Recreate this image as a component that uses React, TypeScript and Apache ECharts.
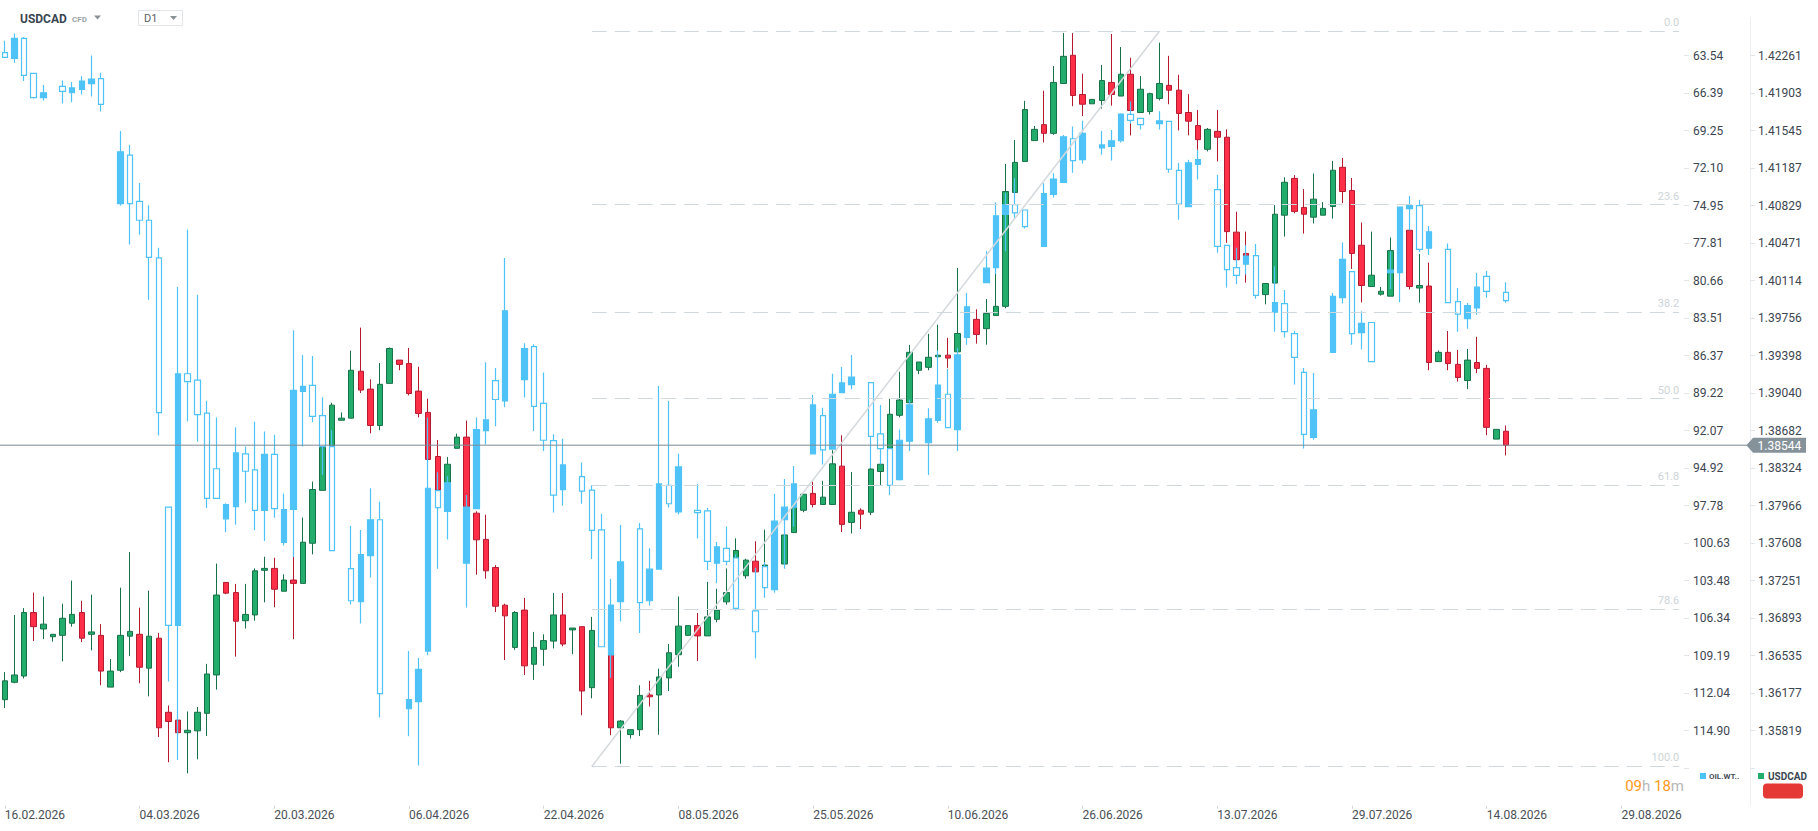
import React, { useEffect, useRef } from "react";
import * as echarts from "echarts";

// ---------- categories ----------
const START_DATE = "2026-02-16"; // first candle
const CANDLE_COUNT = 157; // trading sessions (Sun-Fri)
const FUTURE_COUNT = 18; // empty future days on the right
const TICK_LABELS = [
  "16.02.2026", "04.03.2026", "20.03.2026", "06.04.2026", "22.04.2026", "08.05.2026",
  "25.05.2026", "10.06.2026", "26.06.2026", "13.07.2026", "29.07.2026", "14.08.2026", "29.08.2026",
];

// ---------- axis tick labels ----------
const OIL_TICKS = ["63.54", "66.39", "69.25", "72.10", "74.95", "77.81", "80.66", "83.51", "86.37", "89.22",
  "92.07", "94.92", "97.78", "100.63", "103.48", "106.34", "109.19", "112.04", "114.90"];
const USDCAD_TICKS = ["1.42261", "1.41903", "1.41545", "1.41187", "1.40829", "1.40471", "1.40114", "1.39756",
  "1.39398", "1.39040", "1.38682", "1.38324", "1.37966", "1.37608", "1.37251", "1.36893", "1.36535", "1.36177", "1.35819"];
const OIL_MIN = 60.6867;
const OIL_STEP = 2.8533;
const USD_MAX = 1.42619;
const USD_STEP = 0.0035789;
const STEPS = 21;

// ---------- USDCAD [open, close, low, high] ----------
const USDCAD_OCLH: (number[] | null)[] = [
  [1.36115, 1.36295, 1.36036, 1.36378], [1.36281, 1.36351, 1.36272, 1.36924], [1.36341, 1.36947, 1.36318, 1.36989],
  [1.36947, 1.36812, 1.36674, 1.37137], [1.3679, 1.36836, 1.36693, 1.371], [1.36716, 1.36739, 1.36669, 1.36739],
  [1.36729, 1.36892, 1.3648, 1.37031], [1.36845, 1.36929, 1.36812, 1.37252], [1.36947, 1.36702, 1.36665, 1.37059],
  [1.36739, 1.36762, 1.36586, 1.37118], [1.36729, 1.36388, 1.36253, 1.36836], [1.36235, 1.36388, 1.36235, 1.36503],
  [1.36396, 1.36729, 1.36378, 1.37184], [1.36721, 1.36767, 1.36531, 1.37525], [1.36739, 1.36425, 1.36272, 1.36993],
  [1.36416, 1.36721, 1.36147, 1.37155], [1.36702, 1.35847, 1.35758, 1.36753], [1.35995, 1.35907, 1.35518, 1.3606],
  [1.3592, 1.358, 1.358, 1.3592], [1.358, 1.35823, 1.35412, 1.36003], [1.35818, 1.35995, 1.35546, 1.36045],
  [1.35985, 1.3636, 1.35768, 1.36457], [1.36351, 1.37114, 1.36211, 1.37414], [1.37234, 1.37132, 1.37122, 1.37234],
  [1.37137, 1.36864, 1.36526, 1.3722], [1.36869, 1.36929, 1.36794, 1.3722], [1.36924, 1.37345, 1.36869, 1.37368],
  [1.3735, 1.37368, 1.37044, 1.37479], [1.37368, 1.37169, 1.36998, 1.3747], [1.3715, 1.37257, 1.3715, 1.37312],
  [1.37257, 1.37225, 1.36693, 1.37479], [1.37225, 1.37618, 1.37225, 1.37853], [1.37608, 1.38121, 1.37502, 1.38196],
  [1.38113, 1.38524, 1.38113, 1.38524], [1.38533, 1.38926, 1.38533, 1.38949], [1.38782, 1.38802, 1.38782, 1.38857],
  [1.38802, 1.39259, 1.38802, 1.39445], [1.3925, 1.3907, 1.39042, 1.39666], [1.39079, 1.38732, 1.38657, 1.39172],
  [1.38732, 1.39125, 1.38686, 1.39328], [1.39134, 1.39467, 1.39134, 1.39476], [1.39356, 1.39315, 1.39259, 1.39356],
  [1.39323, 1.39037, 1.39019, 1.39472], [1.3906, 1.38847, 1.3881, 1.39292], [1.38857, 1.38408, 1.38408, 1.38987],
  [1.38436, 1.38117, 1.38117, 1.38594], [1.38117, 1.38362, 1.38117, 1.38431], [1.38514, 1.38621, 1.38514, 1.38654],
  [1.38621, 1.37955, 1.37955, 1.38779], [1.37895, 1.37641, 1.37308, 1.37913], [1.37645, 1.37345, 1.3727, 1.37881],
  [1.37377, 1.37007, 1.36952, 1.374], [1.37017, 1.36915, 1.36494, 1.37031], [1.36614, 1.36947, 1.36591, 1.36961],
  [1.3697, 1.36438, 1.36351, 1.37086], [1.36453, 1.36614, 1.36304, 1.36762], [1.36596, 1.36679, 1.36438, 1.36739],
  [1.36674, 1.36924, 1.36604, 1.37132], [1.36924, 1.36646, 1.36624, 1.37132], [1.36781, 1.36799, 1.36549, 1.36799],
  [1.36812, 1.36198, 1.35967, 1.36812], [1.3623, 1.36776, 1.36128, 1.36905], null,
  [1.36544, 1.35847, 1.35777, 1.36544], [1.35847, 1.35911, 1.35504, 1.3592], [1.35782, 1.35829, 1.35745, 1.35829],
  [1.35829, 1.36156, 1.35768, 1.36253], [1.3616, 1.36143, 1.3605, 1.36295], [1.3616, 1.36332, 1.35781, 1.36411],
  [1.36323, 1.36563, 1.36198, 1.36646], [1.36544, 1.36817, 1.36429, 1.371], [1.36729, 1.36822, 1.36729, 1.36822],
  [1.36822, 1.36724, 1.36484, 1.36942], [1.36724, 1.36905, 1.36724, 1.37239], [1.36882, 1.3697, 1.36854, 1.37174],
  [1.37049, 1.37137, 1.37022, 1.37368], [1.3746, 1.37539, 1.3746, 1.37655], [1.37298, 1.37447, 1.3727, 1.3746],
  [1.37437, 1.37335, 1.37335, 1.37627], [1.37377, 1.374, 1.37377, 1.37738], null,
  [1.3741, 1.37687, 1.3741, 1.3787], [1.3771, 1.37955, 1.3771, 1.3803], [1.37923, 1.38076, 1.37904, 1.38076],
  [1.38084, 1.37978, 1.3795, 1.38196], [1.37978, 1.38048, 1.37978, 1.38204], [1.37978, 1.38366, 1.37978, 1.38496],
  [1.38344, 1.37788, 1.37715, 1.38639], [1.37807, 1.37904, 1.37701, 1.38288], [1.37923, 1.37886, 1.37743, 1.37941],
  [1.37904, 1.38316, 1.37876, 1.38357], [1.38293, 1.38362, 1.38154, 1.38441], [1.38514, 1.38839, 1.38514, 1.38987],
  [1.38829, 1.38975, 1.3881, 1.39245], [1.38949, 1.3943, 1.38949, 1.395], [1.39259, 1.39338, 1.39222, 1.39338],
  [1.39287, 1.39383, 1.39259, 1.39606], [1.39388, 1.39403, 1.39388, 1.39694], [1.39403, 1.39375, 1.39282, 1.39569],
  [1.39435, 1.3961, 1.39435, 1.40234], null, [1.39745, 1.39601, 1.39513, 1.39841],
  [1.39656, 1.398, 1.39503, 1.39939], [1.39781, 1.39869, 1.39781, 1.40179], [1.39869, 1.40965, 1.39851, 1.41228],
  [1.40956, 1.41243, 1.40956, 1.41456], [1.41252, 1.41747, 1.41252, 1.4183], [1.41451, 1.41558, 1.41451, 1.4159],
  [1.41603, 1.4152, 1.41433, 1.41927], [1.4152, 1.42006, 1.41506, 1.42163], [1.41996, 1.42255, 1.41996, 1.42477],
  [1.42265, 1.41881, 1.41779, 1.42477], [1.41891, 1.41798, 1.41686, 1.42089], [1.41802, 1.41844, 1.41802, 1.41844],
  [1.41834, 1.42024, 1.41756, 1.42172], [1.42006, 1.41891, 1.41784, 1.42468], [1.41876, 1.42084, 1.41876, 1.42344],
  [1.42084, 1.41738, 1.41501, 1.42242], [1.41719, 1.41941, 1.41719, 1.42066], [1.41728, 1.41899, 1.41701, 1.41908],
  [1.41853, 1.41996, 1.41834, 1.42385], [1.41978, 1.41932, 1.41798, 1.4226], [1.41932, 1.4171, 1.41548, 1.42079],
  [1.41719, 1.41636, 1.41501, 1.41894], [1.41594, 1.4146, 1.41363, 1.41742], [1.41368, 1.41558, 1.41348, 1.41571],
  [1.41539, 1.41483, 1.41252, 1.41742], [1.41483, 1.40582, 1.40475, 1.41558], [1.40577, 1.40314, 1.40314, 1.40772],
  [1.40374, 1.40346, 1.40096, 1.40582], null, [1.39981, 1.40087, 1.39888, 1.40087],
  [1.40091, 1.40748, 1.40091, 1.40835], [1.40739, 1.41053, 1.40535, 1.411], [1.4109, 1.40775, 1.40757, 1.41122],
  [1.40813, 1.40748, 1.40563, 1.40988], [1.4072, 1.40892, 1.4066, 1.41137], [1.40739, 1.40804, 1.40739, 1.40864],
  [1.40822, 1.41168, 1.40707, 1.41257], [1.41196, 1.40965, 1.40854, 1.41285], [1.40974, 1.40374, 1.40226, 1.41094],
  [1.40452, 1.40068, 1.39906, 1.40669], [1.40058, 1.40166, 1.40058, 1.40582], [1.39985, 1.40013, 1.39971, 1.40054],
  [1.39966, 1.40401, 1.39966, 1.40526], null, [1.40595, 1.40058, 1.4003, 1.40595],
  [1.40044, 1.40068, 1.39906, 1.40369], [1.40063, 1.39333, 1.39259, 1.40286], [1.39342, 1.3943, 1.39342, 1.39448],
  [1.3943, 1.39323, 1.39259, 1.39633], [1.39315, 1.3919, 1.39152, 1.39453], [1.39161, 1.39356, 1.39079, 1.39462],
  [1.39333, 1.39277, 1.39231, 1.39578], [1.39277, 1.38714, 1.38639, 1.3931], [1.38602, 1.38695, 1.38602, 1.38695],
  [1.38677, 1.38544, 1.38446, 1.38732],
];

// ---------- OIL.WTI [open, close, low, high] ----------
const OIL_OCLH: (number[] | null)[] = [
  [63.30, 63.66, 62.41, 63.70], [63.74, 62.22, 61.86, 64.07], [62.22, 65.03, 62.12, 65.47], [64.88, 66.73, 64.86, 66.80],
  [66.73, 66.36, 65.77, 66.95], null, [65.88, 66.25, 65.43, 67.17], [66.36, 65.99, 65.54, 67.09],
  [66.10, 65.47, 65.10, 66.50], [65.66, 65.32, 63.52, 66.65], [65.28, 67.24, 64.84, 67.79], null,
  [74.80, 70.85, 69.27, 74.95], [71.11, 74.80, 70.33, 77.90], [74.62, 76.06, 73.22, 77.16], [76.06, 78.89, 74.92, 82.11],
  [78.93, 90.70, 78.16, 92.43], [97.89, 106.89, 97.89, 111.16], [106.89, 87.74, 81.14, 117.13], [87.74, 88.34, 76.76, 91.36],
  [88.22, 90.85, 81.73, 92.91], [90.73, 97.22, 89.81, 97.96], [94.97, 97.22, 91.07, 97.22], [98.78, 97.70, 97.59, 99.80],
  [97.85, 93.75, 91.81, 99.22], [93.83, 95.16, 93.28, 97.56], [95.05, 98.14, 91.40, 99.63], [98.14, 93.87, 92.13, 100.47],
  [93.87, 98.00, 92.39, 98.70], [100.58, 98.07, 96.86, 100.80], [98.07, 89.00, 84.43, 101.68], [89.08, 88.70, 86.31, 93.28],
  [88.63, 90.99, 86.38, 91.43], [90.92, 93.28, 89.52, 95.42], [93.28, 101.20, 92.03, 101.20], null,
  [102.57, 105.01, 99.32, 105.30], [105.08, 101.50, 99.62, 106.74], [101.58, 98.85, 96.45, 103.24], [98.85, 112.08, 97.48, 113.90],
  null, null, [113.23, 112.53, 108.84, 115.33], [112.68, 110.24, 109.36, 117.55],
  [108.84, 96.45, 91.07, 109.14], [96.63, 97.92, 95.23, 102.57], [98.22, 96.04, 95.53, 100.36], null,
  [102.16, 97.89, 96.97, 105.53], [98.00, 91.99, 91.07, 98.00], [92.06, 91.25, 86.86, 93.13], [88.26, 89.70, 87.30, 91.73],
  [89.81, 82.95, 78.93, 90.29], null, [88.19, 85.83, 85.42, 89.55], [85.68, 90.22, 85.50, 92.10],
  [90.00, 92.80, 87.64, 93.61], [92.83, 96.97, 92.35, 98.30], [96.56, 94.68, 92.69, 97.78], null,
  [95.57, 96.67, 94.49, 97.63], [96.60, 99.66, 96.23, 101.84], [99.62, 108.51, 98.40, 108.51], [109.14, 105.34, 103.35, 110.87],
  [105.08, 102.06, 99.25, 106.59], null, [99.55, 105.15, 99.10, 107.47], [105.01, 102.61, 101.02, 105.37],
  [102.61, 96.12, 88.67, 102.61], [96.23, 97.63, 89.81, 97.92], [98.26, 94.83, 93.83, 98.44], null,
  [98.14, 98.30, 96.12, 100.28], [98.18, 102.02, 97.96, 102.68], [102.16, 100.91, 100.54, 103.68], [101.02, 102.02, 99.36, 102.31],
  [101.76, 105.59, 101.50, 105.75], null, [105.78, 107.37, 102.50, 109.40], [102.42, 104.01, 102.06, 104.79],
  [104.16, 98.96, 96.89, 104.41], [98.85, 97.89, 95.75, 102.57], [97.89, 96.12, 94.75, 99.36], null,
  [93.83, 90.11, 89.33, 93.83], [90.92, 93.53, 90.33, 94.64], [93.47, 89.30, 87.74, 93.47], [89.18, 88.44, 87.23, 89.18],
  [88.56, 88.00, 86.31, 88.92], null, [88.41, 92.51, 88.41, 94.93], [92.32, 93.43, 90.11, 94.64],
  [93.43, 96.23, 93.43, 96.97], [95.79, 92.80, 91.99, 95.86], [92.87, 90.11, 89.70, 93.61], null,
  [92.99, 91.18, 90.37, 95.45], [91.29, 88.60, 85.98, 91.47], [89.30, 91.84, 87.38, 91.84], [91.99, 86.31, 85.76, 93.61],
  [84.98, 82.65, 81.59, 85.54], null, [80.81, 79.71, 78.42, 80.81], [79.67, 75.72, 74.69, 80.15],
  [75.62, 74.88, 73.99, 78.42], [74.88, 75.50, 72.85, 75.94], [75.28, 76.54, 75.28, 76.68], null,
  [78.05, 74.03, 73.25, 78.05], [74.10, 72.92, 72.48, 74.32], [73.18, 69.71, 69.57, 73.18], [69.86, 71.52, 68.93, 72.44],
  [71.45, 69.45, 68.49, 71.74], null, [70.56, 70.33, 69.27, 71.07], [70.45, 70.01, 69.19, 71.52],
  [70.01, 67.98, 67.91, 70.15], [68.01, 68.46, 67.02, 68.71], [68.31, 68.79, 68.31, 69.16], null,
  [68.71, 68.49, 67.76, 69.16], [68.53, 72.18, 68.53, 72.44], [72.26, 74.84, 71.70, 76.02], [75.02, 71.70, 71.45, 75.02],
  [71.81, 71.45, 70.71, 72.96], null, [73.73, 78.05, 72.59, 78.53], [77.97, 79.82, 77.97, 81.18],
  [79.67, 80.26, 78.16, 80.93], [79.41, 78.78, 77.97, 80.19], [78.75, 81.77, 77.86, 82.03], null,
  [83.06, 82.33, 79.56, 84.54], [82.40, 84.54, 81.37, 84.98], [84.69, 86.50, 84.46, 88.56], [87.64, 92.35, 87.30, 93.43],
  [92.58, 90.48, 87.68, 92.76], null, [86.12, 81.85, 81.59, 86.12], [81.95, 79.04, 77.75, 82.40],
  [79.97, 84.69, 79.97, 85.54], [84.61, 83.91, 82.99, 85.90], [83.84, 86.82, 83.84, 86.82], null,
  [80.04, 79.85, 78.42, 81.29], [80.04, 75.06, 75.06, 82.29], [75.17, 74.95, 74.22, 76.83], [74.95, 78.27, 74.50, 78.49],
  [78.19, 76.94, 76.50, 78.71], null, [78.27, 82.33, 77.83, 82.33], [82.25, 83.21, 81.22, 84.54],
  [83.54, 82.55, 82.36, 84.32], [82.73, 81.15, 80.07, 83.25], [80.33, 81.47, 79.93, 81.95], null,
  [81.55, 82.17, 80.77, 82.33],
];

// ---------- Fibonacci retracement & trend line (USDCAD) ----------
const FIB_LEVELS = [0, 23.6, 38.2, 50, 61.8, 78.6, 100];
const FIB_HIGH = 1.42497;
const FIB_LOW = 1.35478;
const FIB_START_INDEX = 61;
const TREND_END_INDEX = 120;
const LAST_PRICE = 1.38544;

const COLORS = {
  up: "#22ad6d",
  upBorder: "#177148",
  down: "#ff2f48",
  downBorder: "#b51a30",
  oil: "#4fc3f7",
  fib: "#cfd8dd",
  fibText: "#cdd4d9",
  price: "#7e8b94",
  axisText: "#3c4650",
};

function pad(n: number) {
  return n < 10 ? "0" + n : "" + n;
}
function fmt(d: Date) {
  return pad(d.getUTCDate()) + "." + pad(d.getUTCMonth() + 1) + "." + d.getUTCFullYear();
}
function buildCategories(): string[] {
  const out: string[] = [];
  const d = new Date(START_DATE + "T00:00:00Z");
  while (out.length < CANDLE_COUNT) {
    if (d.getUTCDay() !== 6) out.push(fmt(d));
    d.setUTCDate(d.getUTCDate() + 1);
  }
  for (let k = 0; k < FUTURE_COUNT; k++) {
    out.push(fmt(d));
    d.setUTCDate(d.getUTCDate() + 1);
  }
  return out;
}

const EMPTY = ["-", "-", "-", "-"];

export default function App() {
  const ref = useRef<HTMLDivElement>(null);
  useEffect(() => {
    if (!ref.current) return;
    const chart = echarts.init(ref.current, undefined, { renderer: "svg" });
    const categories = buildCategories();
    const lastCat = categories.length - 1;
    const isTick = (_i: number, v: string) => TICK_LABELS.indexOf(v) >= 0;
    const font = "Roboto";

    const fibData: any[] = FIB_LEVELS.map((p) => {
      const v = FIB_HIGH - ((FIB_HIGH - FIB_LOW) * p) / 100;
      return [
        {
          coord: [FIB_START_INDEX, v],
          lineStyle: { color: COLORS.fib, type: [15, 8], width: 1 },
          label: {
            show: true,
            position: "insideEndTop",
            formatter: p.toFixed(1),
            color: COLORS.fibText,
            fontSize: 11,
            fontFamily: font,
            distance: [0, 3],
          },
        },
        { coord: [lastCat, v] },
      ];
    });
    fibData.push([
      { coord: [FIB_START_INDEX, FIB_LOW], lineStyle: { color: "#d5d9dd", type: "solid", width: 1.5 }, label: { show: false } },
      { coord: [TREND_END_INDEX, FIB_HIGH] },
    ]);

    const option: any = {
      animation: false,
      backgroundColor: "#ffffff",
      grid: { left: 0, right: 134, top: 18.2, bottom: 25.3, containLabel: false },
      xAxis: {
        type: "category",
        data: categories,
        boundaryGap: true,
        axisLine: { show: false },
        axisTick: { show: true, interval: isTick, alignWithLabel: true, length: 3, lineStyle: { color: "#d6d6d6" } },
        axisLabel: {
          interval: isTick,
          align: "left",
          margin: 3,
          color: "#4a4f55",
          fontSize: 12,
          fontFamily: font,
        },
        splitLine: { show: false },
      },
      yAxis: [
        {
          type: "value",
          position: "right",
          inverse: true,
          min: OIL_MIN,
          max: OIL_MIN + STEPS * OIL_STEP,
          interval: OIL_STEP,
          axisLine: { show: false },
          axisTick: { show: true, length: 5, lineStyle: { color: "#e3e6e8" } },
          splitLine: { show: false },
          axisLabel: {
            margin: 9,
            color: COLORS.axisText,
            fontSize: 12,
            fontFamily: font,
            showMinLabel: false,
            showMaxLabel: false,
            formatter: (v: number) => {
              const k = Math.round((v - OIL_MIN) / OIL_STEP);
              return k >= 1 && k <= OIL_TICKS.length ? OIL_TICKS[k - 1] : "";
            },
          },
        },
        {
          type: "value",
          position: "right",
          offset: 66,
          min: USD_MAX - STEPS * USD_STEP,
          max: USD_MAX,
          interval: USD_STEP,
          axisLine: { show: true, lineStyle: { color: "#eceff1", width: 1 } },
          axisTick: { show: true, length: 5, lineStyle: { color: "#e3e6e8" } },
          splitLine: { show: false },
          axisLabel: {
            margin: 8,
            color: COLORS.axisText,
            fontSize: 12,
            fontFamily: font,
            showMinLabel: false,
            showMaxLabel: false,
            formatter: (v: number) => {
              const k = Math.round((USD_MAX - v) / USD_STEP);
              return k >= 1 && k <= USDCAD_TICKS.length ? USDCAD_TICKS[k - 1] : "";
            },
          },
        },
      ],
      series: [
        {
          name: "USDCAD",
          type: "candlestick",
          xAxisIndex: 0,
          yAxisIndex: 1,
          barWidth: 6,
          z: 2,
          data: USDCAD_OCLH.map((d) => d || EMPTY),
          itemStyle: {
            color: COLORS.up,
            color0: COLORS.down,
            borderColor: COLORS.upBorder,
            borderColor0: COLORS.downBorder,
            borderWidth: 1,
          },
        },
        {
          name: "OIL.WTI",
          type: "candlestick",
          xAxisIndex: 0,
          yAxisIndex: 0,
          barWidth: 6,
          z: 3,
          data: OIL_OCLH.map((d) => d || EMPTY),
          itemStyle: {
            color: "#ffffff",
            color0: COLORS.oil,
            borderColor: COLORS.oil,
            borderColor0: COLORS.oil,
            borderWidth: 1.2,
          },
        },
        {
          name: "overlay",
          type: "line",
          xAxisIndex: 0,
          yAxisIndex: 1,
          z: 5,
          data: [],
          silent: true,
          markLine: {
            silent: true,
            symbol: ["none", "none"],
            animation: false,
            data: fibData,
          },
        },
      ],
    };
    chart.setOption(option);

    const yPrice = chart.convertToPixel({ yAxisIndex: 1 }, LAST_PRICE) as number;
    const graphic: any[] = [
      // header
      { type: "text", style: { text: "USDCAD", x: 20, y: 19, fill: "#3a4650", fontSize: 12, fontWeight: "bold", fontFamily: font, verticalAlign: "middle" } },
      { type: "text", style: { text: "CFD", x: 72, y: 19.5, fill: "#9aa3a9", fontSize: 8, fontWeight: "bold", fontFamily: font, verticalAlign: "middle" } },
      { type: "polygon", shape: { points: [[94, 15.5], [101, 15.5], [97.5, 19.5]] }, style: { fill: "#8a9296" } },
      { type: "rect", shape: { x: 138.5, y: 10.5, width: 44, height: 15 }, style: { fill: "#ffffff", stroke: "#e2e5e7", lineWidth: 1 } },
      { type: "text", style: { text: "D1", x: 144, y: 18.5, fill: "#5a6268", fontSize: 11, fontFamily: font, verticalAlign: "middle" } },
      { type: "polygon", shape: { points: [[170, 16], [177, 16], [173.5, 20]] }, style: { fill: "#8a9296" } },
      // current price line and tag
      { type: "line", z: 20, shape: { x1: 0, y1: yPrice, x2: 1748, y2: yPrice }, style: { stroke: COLORS.price, lineWidth: 1 } },
      {
        type: "polygon",
        z: 21,
        shape: { points: [[1746.5, yPrice], [1753, yPrice - 7.5], [1806, yPrice - 7.5], [1806, yPrice + 7.5], [1753, yPrice + 7.5]] },
        style: { fill: "#86929a" },
      },
      { type: "text", z: 22, style: { text: LAST_PRICE.toFixed(5), x: 1757.5, y: yPrice + 0.5, fill: "#ffffff", fontSize: 12, fontFamily: font, verticalAlign: "middle" } },
      // legends
      { type: "rect", shape: { x: 1700, y: 773, width: 6, height: 6 }, style: { fill: COLORS.oil } },
      { type: "text", style: { text: "OIL.WT..", x: 1709, y: 776.5, fill: "#4a5258", fontSize: 8, fontWeight: "bold", fontFamily: font, verticalAlign: "middle" } },
      { type: "rect", shape: { x: 1758, y: 773, width: 6, height: 6 }, style: { fill: COLORS.up } },
      { type: "text", style: { text: "USDCAD", x: 1768, y: 776.5, fill: "#3a4650", fontSize: 10, fontWeight: "bold", fontFamily: font, verticalAlign: "middle" } },
      { type: "rect", shape: { x: 1763, y: 783.5, width: 40, height: 15, r: 4 }, style: { fill: "#e53935" } },
      // countdown
      {
        type: "text",
        style: {
          text: "{o|09}{g|h} {o|18}{g|m}",
          x: 1684,
          y: 786,
          align: "right",
          verticalAlign: "middle",
          fontFamily: font,
          fontSize: 15,
          rich: {
            o: { fill: "#ff9a1a", fontSize: 15, fontFamily: font },
            g: { fill: "#b8b8b8", fontSize: 15, fontFamily: font },
          },
        },
      },
    ];
    chart.setOption({ graphic });

    return () => chart.dispose();
  }, []);

  return <div ref={ref} style={{ position: "fixed", left: 0, top: 0, width: 1818, height: 831, background: "#fff" }} />;
}
